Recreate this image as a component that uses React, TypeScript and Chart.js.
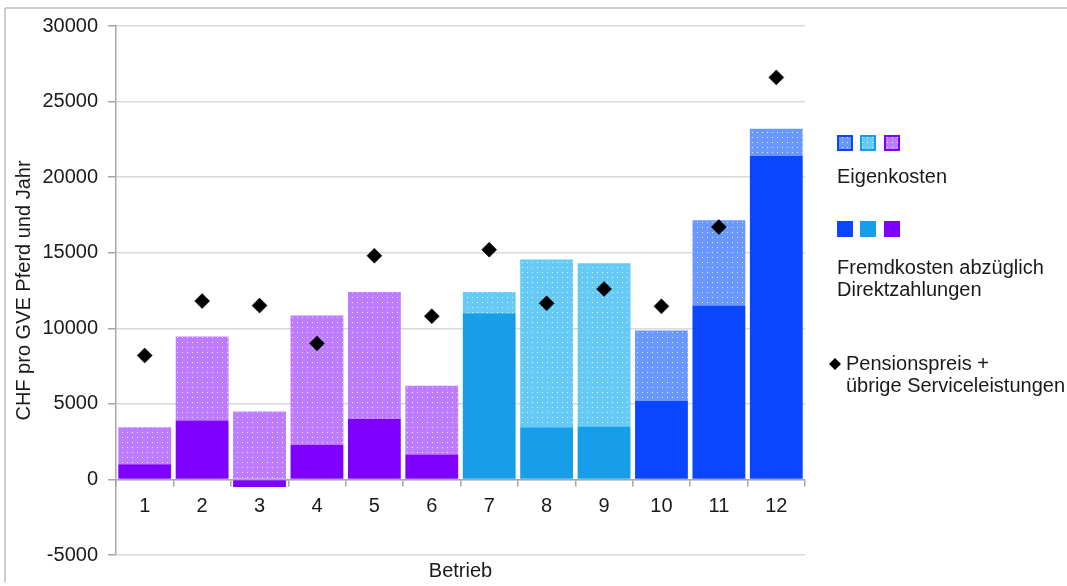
import React, { useEffect, useRef } from 'react';
import { Chart, registerables } from 'chart.js';

Chart.register(...registerables);

// ---- data ----
const categories = ['1', '2', '3', '4', '5', '6', '7', '8', '9', '10', '11', '12'];
// Fremdkosten abzüglich Direktzahlungen (solid part)
const fremdkosten = [1000, 3900, -500, 2300, 4000, 1650, 11000, 3450, 3500, 5200, 11500, 21400];
// Eigenkosten (dotted part, stacked on top)
const eigenkosten = [2450, 5550, 4500, 8550, 8400, 4550, 1400, 11100, 10800, 4650, 5650, 1800];
// Pensionspreis + übrige Serviceleistungen (diamonds)
const pensionspreis = [8200, 11800, 11500, 9000, 14800, 10800, 15200, 11650, 12600, 11450, 16700, 26600];
// colour group of each Betrieb: 0 = violett, 1 = hellblau, 2 = blau
const betriebGruppe = [0, 0, 0, 0, 0, 0, 1, 1, 1, 2, 2, 2];
const yTicks = { min: -5000, max: 30000, step: 5000 };

const FONT = '"Liberation Sans", Arial, Helvetica, sans-serif';
const TEXT = '#1a1a1a';
const darkCols = ['#8000FF', '#169FE8', '#0A46FF'];
const lightCols = ['#BE7CFF', '#66CBF4', '#6B98FF'];

function makePattern(base: string) {
  const c = document.createElement('canvas');
  c.width = 5;
  c.height = 5;
  const g = c.getContext('2d')!;
  g.fillStyle = base;
  g.fillRect(0, 0, 5, 5);
  g.fillStyle = 'rgba(255,255,255,0.75)';
  g.fillRect(2, 2, 1, 1);
  return g.createPattern(c, 'repeat')!;
}

export default function App() {
  const ref = useRef<HTMLCanvasElement | null>(null);

  useEffect(() => {
    if (!ref.current) return;
    const patterns = lightCols.map(makePattern);
    const darkBg = betriebGruppe.map((g) => darkCols[g]);
    const lightBg = betriebGruppe.map((g) => patterns[g]);

    const framePlugin = {
      id: 'frame',
      beforeDraw(chart: any) {
        const ctx = chart.ctx;
        ctx.save();
        ctx.fillStyle = '#ffffff';
        ctx.fillRect(0, 0, chart.width, chart.height);
        ctx.strokeStyle = '#bdbdbd';
        ctx.lineWidth = 1.5;
        ctx.beginPath();
        ctx.moveTo(5, 8);
        ctx.lineTo(chart.width, 8);
        ctx.moveTo(5, 8);
        ctx.lineTo(5, 582);
        ctx.stroke();
        ctx.restore();
      },
    };

    const legendPlugin = {
      id: 'customLegend',
      afterDraw(chart: any) {
        const ctx = chart.ctx;
        ctx.save();
        const order = [2, 1, 0];
        const xs = [837, 860, 884];
        const s = 16;
        // dotted squares
        order.forEach((g, i) => {
          ctx.fillStyle = patterns[g];
          ctx.fillRect(xs[i], 135, s, s);
          ctx.strokeStyle = darkCols[g];
          ctx.lineWidth = 2;
          ctx.strokeRect(xs[i] + 1, 136, s - 2, s - 2);
        });
        // solid squares
        order.forEach((g, i) => {
          ctx.fillStyle = darkCols[g];
          ctx.fillRect(xs[i], 221, s, s);
        });
        ctx.fillStyle = TEXT;
        ctx.font = `20px ${FONT}`;
        ctx.textAlign = 'left';
        ctx.textBaseline = 'middle';
        ctx.fillText('Eigenkosten', 837, 177);
        ctx.fillText('Fremdkosten abzüglich', 837, 268);
        ctx.fillText('Direktzahlungen', 837, 290);
        ctx.fillText('Pensionspreis +', 846, 364);
        ctx.fillText('übrige Serviceleistungen', 846, 386);
        // diamond
        ctx.fillStyle = '#000';
        ctx.beginPath();
        ctx.moveTo(835, 358);
        ctx.lineTo(841, 364);
        ctx.lineTo(835, 370);
        ctx.lineTo(829, 364);
        ctx.closePath();
        ctx.fill();
        ctx.restore();
      },
    };

    const chart = new Chart(ref.current, {
      data: {
        labels: categories,
        datasets: [
          {
            type: 'line',
            label: 'Pensionspreis + übrige Serviceleistungen',
            data: pensionspreis,
            showLine: false,
            pointStyle: 'rectRot',
            pointRadius: 7.5,
            pointBackgroundColor: '#000',
            pointBorderColor: '#000',
            pointBorderWidth: 0.5,
            stack: 'pts',
            order: 0,
          } as any,
          {
            type: 'bar',
            label: 'Fremdkosten abzüglich Direktzahlungen',
            data: fremdkosten,
            backgroundColor: darkBg,
            borderWidth: 0,
            stack: 'kosten',
            order: 1,
            barPercentage: 0.92,
            categoryPercentage: 1,
          },
          {
            type: 'bar',
            label: 'Eigenkosten',
            data: eigenkosten,
            backgroundColor: lightBg as any,
            borderWidth: 0,
            stack: 'kosten',
            order: 1,
            barPercentage: 0.92,
            categoryPercentage: 1,
          },
        ],
      },
      options: {
        responsive: false,
        animation: false,
        layout: { padding: { left: 5, top: 26, right: 262, bottom: 0 } },
        plugins: {
          legend: { display: false },
          tooltip: { enabled: false },
        },
        scales: {
          x: {
            type: 'category',
            stacked: true,
            position: { y: 0 } as any,
            grid: {
              offset: true,
              drawOnChartArea: false,
              drawTicks: true,
              tickLength: 6,
              color: '#a6a6a6',
              lineWidth: 1.5,
            },
            border: { display: true, color: '#a6a6a6', width: 1.5 },
            ticks: {
              font: { size: 20, family: FONT },
              color: TEXT,
              padding: 9,
              maxRotation: 0,
              autoSkip: false,
            },
          },
          x2: {
            type: 'category',
            position: 'bottom',
            grid: { display: false },
            border: { display: false },
            ticks: { display: false },
            title: {
              display: true,
              text: 'Betrieb',
              font: { size: 20, family: FONT },
              color: TEXT,
              padding: { top: 4, bottom: 3 },
            },
            afterFit: (s: any) => {
              s.height = 31;
            },
          },
          y: {
            stacked: true,
            min: yTicks.min,
            max: yTicks.max,
            ticks: {
              stepSize: yTicks.step,
              font: { size: 20, family: FONT },
              color: TEXT,
              padding: 10,
              callback: (v: any) => String(v),
            },
            grid: {
              color: '#d9d9d9',
              lineWidth: 1.5,
              tickLength: 8,
              tickColor: '#a6a6a6',
            },
            border: { display: true, color: '#a6a6a6', width: 1.5 },
            title: {
              display: true,
              text: 'CHF pro GVE Pferd und Jahr',
              font: { size: 20, family: FONT },
              color: TEXT,
              padding: { top: 7, bottom: 0 },
            },
            afterFit: (s: any) => {
              s.width = 111;
            },
          },
        },
      } as any,
      plugins: [framePlugin, legendPlugin],
    });
    return () => chart.destroy();
  }, []);

  return (
    <div style={{ position: 'absolute', left: 0, top: 0, width: 1067, height: 586 }}>
      <canvas ref={ref} width={1067} height={586} />
    </div>
  );
}
